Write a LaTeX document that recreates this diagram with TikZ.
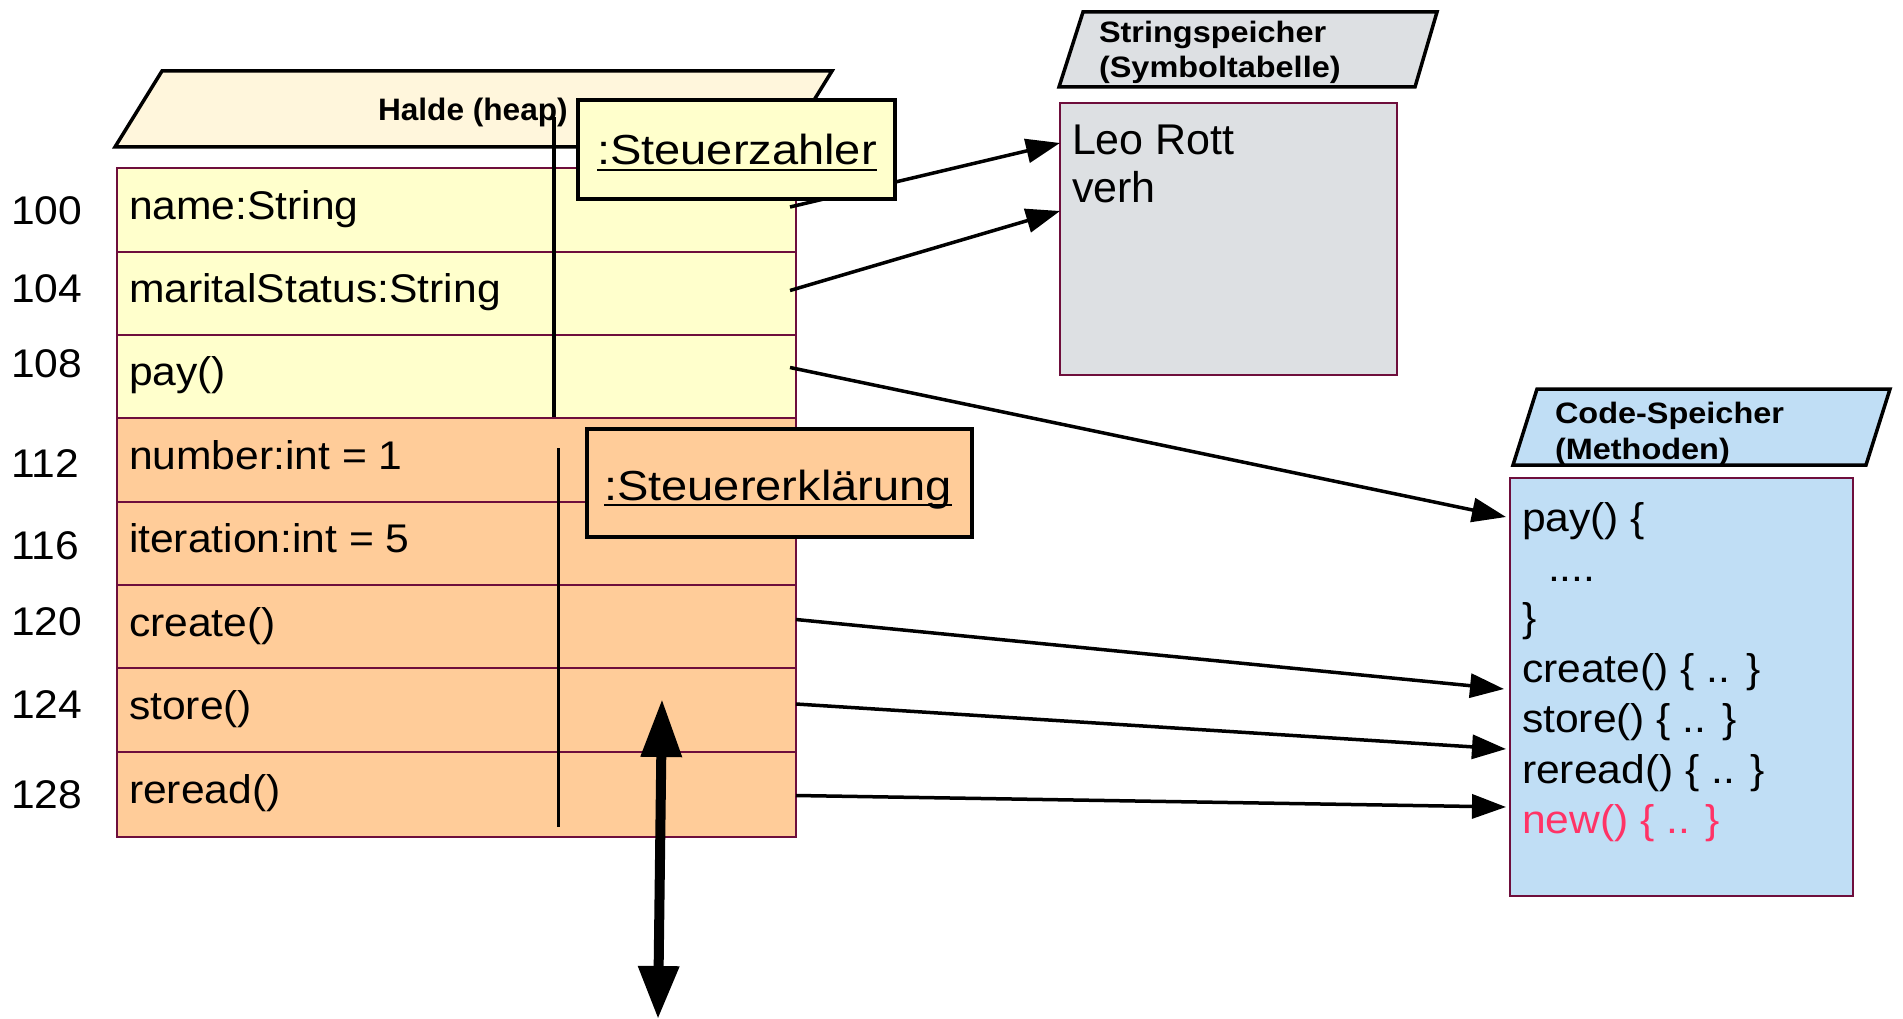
\documentclass[tikz,border=0pt]{standalone}
\usepackage{fontspec}
\setmainfont{Liberation Sans}
\newfontfamily\rowfont{Liberation Sans}[FakeStretch=1.065]
\newfontfamily\objfont{Liberation Sans}[FakeStretch=1.12]
\newfontfamily\headfont{Liberation Sans}[FakeStretch=1.1]
\newfontfamily\haldefont{Liberation Sans}[FakeStretch=1.02]
\newfontfamily\plainfont{Liberation Sans}
\usetikzlibrary{arrows.meta,calc}
\definecolor{heapcream}{HTML}{FFF6DC}
\definecolor{rowyellow}{HTML}{FFFFCC}
\definecolor{roworange}{HTML}{FFCC99}
\definecolor{memgray}{HTML}{DDE0E3}
\definecolor{memblue}{HTML}{C0DEF5}
\definecolor{rowborder}{HTML}{6E0E3C}
\definecolor{newred}{HTML}{FF3366}
\newcommand\objul[1]{\setbox0=\hbox{#1}\rlap{\rule[-6pt]{\wd0}{2pt}}\box0}
\begin{document}
\begin{tikzpicture}[x=1pt,y=-1pt,
  every node/.style={inner sep=0pt, outer sep=0pt},
  plate/.style={draw=black, line width=3.5pt, line join=miter},
  rowbox/.style={draw=rowborder, line width=2pt, minimum width=679pt, anchor=north west},
  membox/.style={draw=rowborder, line width=2pt, anchor=north west},
  objbox/.style={draw=black, line width=3.5pt, anchor=north west},
  rowtxt/.style={anchor=base west, font=\rowfont\fontsize{40}{48}\selectfont},
  strtxt/.style={anchor=base west, font=\plainfont\fontsize{43}{51}\selectfont},
  objtxt/.style={anchor=base west, font=\objfont\fontsize{42}{50}\selectfont},
  headtxt/.style={anchor=base west, font=\headfont\bfseries\fontsize{29.5}{35}\selectfont},
  haldetxt/.style={anchor=base west, font=\haldefont\bfseries\fontsize{31}{37}\selectfont},
  vline/.style={draw=black, line width=3.2pt},
  conn/.style={draw=black, line width=3.5pt, -{Triangle[length=34pt,width=24pt]}},
  bigarrow/.style={draw=black, line width=10pt, {Triangle[length=58pt,width=39pt]}-{Triangle[length=53pt,width=39pt]}}
]
\useasboundingbox (0,0) rectangle (1903,1019);

% heap header plate
\filldraw[plate, fill=heapcream] (162,71) -- (832,71) -- (785,147) -- (115,147) -- cycle;
\node[haldetxt] (halde) at (378,121) {Halde (heap)};

% heap rows
\node[rowbox, fill=rowyellow, minimum height=84pt] (r1) at (117,168) {};
\node[rowbox, fill=rowyellow, minimum height=83pt] (r2) at (117,252) {};
\node[rowbox, fill=rowyellow, minimum height=83pt] (r3) at (117,335) {};
\node[rowbox, fill=roworange, minimum height=84pt] (r4) at (117,418) {};
\node[rowbox, fill=roworange, minimum height=83pt] (r5) at (117,502) {};
\node[rowbox, fill=roworange, minimum height=83pt] (r6) at (117,585) {};
\node[rowbox, fill=roworange, minimum height=84pt] (r7) at (117,668) {};
\node[rowbox, fill=roworange, minimum height=85pt] (r8) at (117,752) {};

\node[rowtxt] (t1) at (129,219) {name:String};
\node[rowtxt] (t2) at (129,302) {maritalStatus:String};
\node[rowtxt] (t3) at (129,385) {pay()};
\node[rowtxt] (t4) at (129,469) {number:int = 1};
\node[rowtxt] (t5) at (129,552) {iteration:int = 5};
\node[rowtxt] (t6) at (129,636) {create()};
\node[rowtxt] (t7) at (129,719) {store()};
\node[rowtxt] (t8) at (129,803) {reread()};

% addresses
\node[rowtxt] (a1) at (11,225) {100};
\node[rowtxt] (a2) at (11,302) {104};
\node[rowtxt] (a3) at (11,377) {108};
\node[rowtxt] (a4) at (11,477) {112};
\node[rowtxt] (a5) at (11,559) {116};
\node[rowtxt] (a6) at (11,635) {120};
\node[rowtxt] (a7) at (11,718) {124};
\node[rowtxt] (a8) at (11,808) {128};

% object lifelines
\coordinate (v1a) at (554,117);
\coordinate (v1b) at (554,417);
\draw[vline] (v1a) -- (v1b);
\coordinate (v2a) at (558.5,448);
\coordinate (v2b) at (558.5,827);
\draw[vline] (v2a) -- (v2b);

% string store
\filldraw[plate, fill=memgray] (1083,12) -- (1437,12) -- (1415,87) -- (1059,87) -- cycle;
\node[headtxt] (sh1) at (1099,43) {Stringspeicher};
\node[headtxt] (sh2) at (1099,78) {(Symboltabelle)};
\node[membox, fill=memgray, minimum width=337pt, minimum height=272pt] (strbox) at (1060,103) {};
\node[strtxt] (s1) at (1072,155) {Leo Rott};
\node[strtxt] (s2) at (1072,203) {verh};

% code store
\filldraw[plate, fill=memblue] (1537,389) -- (1890,389) -- (1866,465) -- (1513,465) -- cycle;
\node[headtxt] (ch1) at (1555,423) {Code-Speicher};
\node[headtxt] (ch2) at (1555,459) {(Methoden)};
\node[membox, fill=memblue, minimum width=343pt, minimum height=418pt] (codebox) at (1510,478) {};
\node[rowtxt] (c1) at (1522,531) {pay() \{};
\node[rowtxt] (c2) at (1522,581) {\hspace*{26pt}....};
\node[rowtxt] (c3) at (1522,631) {\}};
\node[rowtxt] (c4) at (1522,682) {create() \{ .. \}};
\node[rowtxt] (c5) at (1522,732) {store() \{ .. \}};
\node[rowtxt] (c6) at (1522,783) {reread() \{ .. \}};
\node[rowtxt, text=newred] (c7) at (1522,833) {new() \{ .. \}};

% connectors
\draw[conn] ([shift={(-6pt,3pt)}]r1.east) -- ([yshift=-40pt]strbox.north west);
\draw[conn] ([shift={(-6pt,3pt)}]r2.east) -- ([yshift=-108pt]strbox.north west);
\draw[conn] ([shift={(-6pt,9pt)}]r3.east) -- ([shift={(-4pt,-39pt)}]codebox.north west);
\draw[conn] ([yshift=7pt]r6.east) -- ([shift={(-6pt,-211pt)}]codebox.north west);
\draw[conn] ([yshift=6pt]r7.east) -- ([shift={(-4pt,-271pt)}]codebox.north west);
\draw[conn] ([yshift=-1pt]r8.east) -- ([shift={(-4pt,-329pt)}]codebox.north west);

% object boxes
\node[objbox, fill=rowyellow, minimum width=317pt, minimum height=99pt] (oz) at (578,100) {};
\node[objtxt] (ozt) at (597,165) {\objul{:Steuerzahler}};
\node[objbox, fill=roworange, minimum width=385pt, minimum height=108pt] (oe) at (587,429) {};
\node[objtxt] (oet) at (604,500) {\objul{:Steuererklärung}};

% big double arrow
\coordinate (da1) at (662,699);
\coordinate (da2) at (658,1019);
\draw[bigarrow] (da1) -- (da2);
\end{tikzpicture}
\end{document}
